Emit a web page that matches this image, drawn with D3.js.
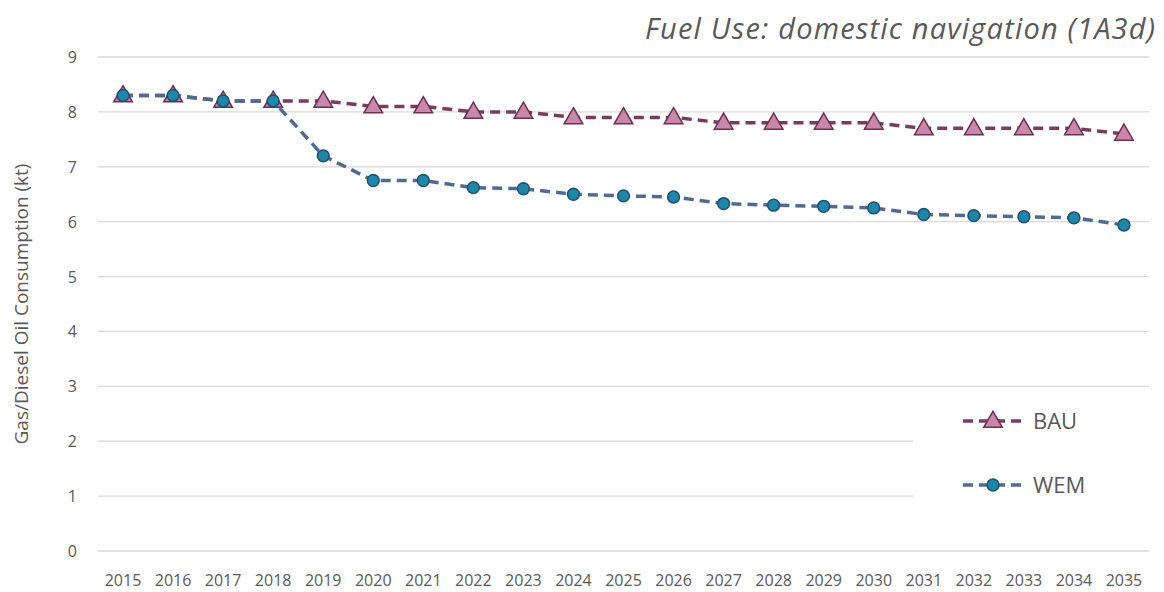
<!DOCTYPE html>
<html><head><meta charset="utf-8">
<script src="https://cdn.jsdelivr.net/npm/d3@7"></script>
<style>body{margin:0;background:#fff;}svg{display:block;font-family:"Open Sans","Liberation Sans",sans-serif;}</style>
</head><body>
<svg id="chart" width="1164" height="592"></svg>
<script>
const years = ["2015","2016","2017","2018","2019","2020","2021","2022","2023","2024","2025","2026","2027","2028","2029","2030","2031","2032","2033","2034","2035"];
const bau = [8.3,8.3,8.2,8.2,8.2,8.1,8.1,8.0,8.0,7.9,7.9,7.9,7.8,7.8,7.8,7.8,7.7,7.7,7.7,7.7,7.6];
const wem = [8.3,8.3,8.2,8.2,7.2,6.75,6.75,6.62,6.6,6.5,6.47,6.45,6.33,6.3,6.28,6.25,6.13,6.11,6.09,6.07,5.94];
const yTicks = [0,1,2,3,4,5,6,7,8,9];
const seriesNames = ["BAU","WEM"];

const svg = d3.select("#chart");
const x = d3.scaleBand().domain(years).range([98,1149]);
const y = d3.scaleLinear().domain([0,9]).range([551,57]);

// gridlines
svg.append("g").selectAll("line").data(yTicks).join("line")
  .attr("x1",98).attr("x2",1149)
  .attr("y1",d=>y(d)).attr("y2",d=>y(d))
  .attr("stroke","#d9d9d9").attr("stroke-width",1.3);

// y tick labels
svg.append("g").selectAll("text").data(yTicks).join("text")
  .attr("x",77).attr("y",d=>y(d)+6)
  .attr("text-anchor","end").attr("font-size",16).attr("fill","#595959")
  .text(d=>d);

// x tick labels
svg.append("g").selectAll("text").data(years).join("text")
  .attr("x",d=>x(d)+x.bandwidth()/2).attr("y",586)
  .attr("text-anchor","middle").attr("font-size",16).attr("fill","#595959")
  .text(d=>d);

// axis title
svg.append("text").attr("transform","translate(28,304) rotate(-90)")
  .attr("text-anchor","middle").attr("font-size",19).attr("fill","#595959")
  .text("Gas/Diesel Oil Consumption (kt)");

// title
svg.append("text").attr("x",645).attr("y",39)
  .attr("font-size",29).attr("font-style","italic").attr("fill","#595959")
  .attr("textLength",510).attr("lengthAdjust","spacing")
  .text("Fuel Use: domestic navigation (1A3d)");

const cx = i => x(years[i]) + x.bandwidth()/2;
const line = d3.line().x((d,i)=>cx(i)).y(d=>y(d));
const tri = d3.symbol().type(d3.symbolTriangle).size(150);
const circ = d3.symbol().type(d3.symbolCircle).size(110);

const styles = {
  BAU:{data:bau, line:"#7b3b60", fill:"#c987aa", stroke:"#6e2f55", sym:tri, dy:1},
  WEM:{data:wem, line:"#4f6b93", fill:"#1f86a8", stroke:"#1f4f72", sym:circ, dy:0}
};

seriesNames.forEach(name=>{
  const s = styles[name];
  svg.append("path").datum(s.data).attr("d",line)
    .attr("fill","none").attr("stroke",s.line).attr("stroke-width",3.5)
    .attr("stroke-dasharray","10,6");
  svg.append("g").selectAll("path").data(s.data).join("path")
    .attr("d",s.sym).attr("transform",(d,i)=>`translate(${cx(i)},${y(d)+s.dy})`)
    .attr("fill",s.fill).attr("stroke",s.stroke).attr("stroke-width",1.5);
});

// legend
const lg = svg.append("g");
lg.append("rect").attr("x",913).attr("y",395).attr("width",236).attr("height",120).attr("fill","#fff");
seriesNames.forEach((name,k)=>{
  const s = styles[name];
  const ly = 421 + k*64;
  lg.append("line").attr("x1",963).attr("x2",1024).attr("y1",ly).attr("y2",ly)
    .attr("stroke",s.line).attr("stroke-width",3.5).attr("stroke-dasharray","10,6");
  lg.append("path").attr("d",s.sym).attr("transform",`translate(993,${ly+s.dy})`)
    .attr("fill",s.fill).attr("stroke",s.stroke).attr("stroke-width",1.5);
  lg.append("text").attr("x",1033).attr("y",ly+8).attr("font-size",22).attr("fill","#595959").text(name);
});
</script>
</body></html>
